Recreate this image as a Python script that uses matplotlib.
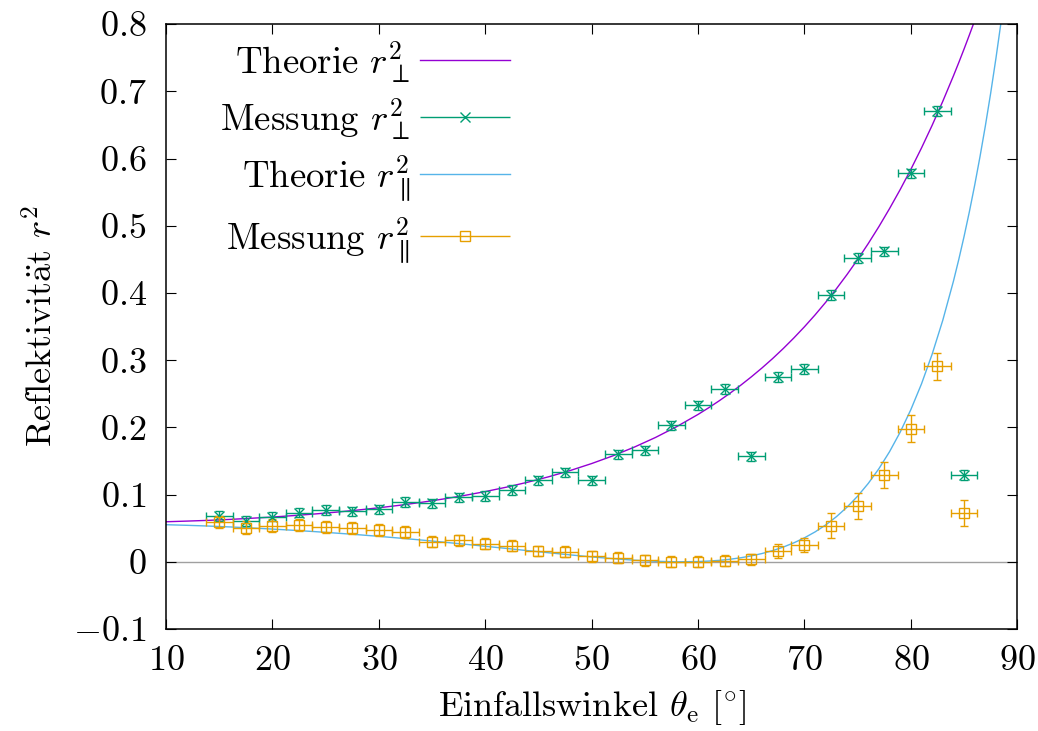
import matplotlib
matplotlib.use("Agg")
import matplotlib.pyplot as plt
from matplotlib.ticker import FuncFormatter, MultipleLocator
from matplotlib.legend_handler import HandlerErrorbar

plt.rcParams['font.family'] = 'serif'
plt.rcParams['font.serif'] = ['cmr10']
plt.rcParams['mathtext.fontset'] = 'cm'
plt.rcParams['axes.formatter.use_mathtext'] = True

# Theoriekurven (Fresnel, tabelliert)
theo_winkel = [10, 12, 14, 16, 18, 20, 22, 24, 26, 28, 30, 32, 34, 36, 38, 40, 42, 44, 46, 48,
               50, 52, 54, 56, 58, 60, 61, 62, 63, 64, 65, 66, 67, 68, 69, 70, 71, 72, 73, 74,
               75, 76, 77, 78, 79, 80, 81, 82, 83, 84, 84.5, 85, 85.5, 86, 86.5, 87, 87.5, 88,
               88.5, 89]
theo_senk = [0.0596, 0.0606, 0.0617, 0.0631, 0.0648, 0.0666, 0.0688, 0.0712, 0.0739, 0.0770,
             0.0804, 0.0842, 0.0885, 0.0933, 0.0986, 0.1045, 0.1111, 0.1185, 0.1267, 0.1359,
             0.1462, 0.1577, 0.1706, 0.1850, 0.2012, 0.2193, 0.2292, 0.2397, 0.2508, 0.2626,
             0.2751, 0.2883, 0.3023, 0.3172, 0.3330, 0.3497, 0.3674, 0.3862, 0.4062, 0.4274,
             0.4498, 0.4736, 0.4988, 0.5256, 0.5539, 0.5839, 0.6157, 0.6494, 0.6851, 0.7229,
             0.7426, 0.7629, 0.7838, 0.8052, 0.8273, 0.8499, 0.8733, 0.8972, 0.9219, 0.9472]
theo_par = [0.0552, 0.0543, 0.0532, 0.0519, 0.0504, 0.0487, 0.0469, 0.0449, 0.0427, 0.0404,
            0.0379, 0.0352, 0.0324, 0.0294, 0.0263, 0.0231, 0.0199, 0.0166, 0.0134, 0.0103,
            0.0073, 0.0047, 0.0024, 0.0008, 0.0000, 0.0004, 0.0011, 0.0022, 0.0038, 0.0060,
            0.0088, 0.0123, 0.0166, 0.0219, 0.0282, 0.0357, 0.0445, 0.0549, 0.0671, 0.0813,
            0.0977, 0.1167, 0.1386, 0.1639, 0.1930, 0.2264, 0.2647, 0.3088, 0.3593, 0.4173,
            0.4495, 0.4839, 0.5208, 0.5604, 0.6028, 0.6483, 0.6970, 0.7494, 0.8055, 0.8658]

# Messwerte
mess_winkel = [15, 17.5, 20, 22.5, 25, 27.5, 30, 32.5, 35, 37.5, 40, 42.5, 45, 47.5, 50,
               52.5, 55, 57.5, 60, 62.5, 65, 67.5, 70, 72.5, 75, 77.5, 80, 82.5, 85]
mess_senk = [0.068, 0.061, 0.067, 0.073, 0.077, 0.075, 0.078, 0.089, 0.087, 0.096, 0.098,
             0.107, 0.121, 0.133, 0.121, 0.160, 0.166, 0.203, 0.233, 0.257, 0.157, 0.275,
             0.287, 0.397, 0.452, 0.462, 0.578, 0.671, 0.129]
mess_par = [0.059, 0.051, 0.054, 0.055, 0.052, 0.050, 0.048, 0.044, 0.030, 0.032, 0.027,
            0.024, 0.016, 0.015, 0.008, 0.006, 0.002, 0.000, 0.000, 0.0015, 0.004, 0.016,
            0.025, 0.054, 0.083, 0.129, 0.198, 0.291, 0.073]
fehler_winkel = 1.25
fehler_senk = 0.007
fehler_par = [0.009, 0.009, 0.009, 0.009, 0.009, 0.009, 0.009, 0.009, 0.008, 0.008, 0.008,
              0.008, 0.008, 0.008, 0.008, 0.008, 0.008, 0.008, 0.008, 0.008, 0.008, 0.011,
              0.010, 0.019, 0.019, 0.019, 0.020, 0.020, 0.019]

lila = '#9400d3'
gruen = '#009e73'
blau = '#56b4e9'
orange = '#e69f00'

fig, ax = plt.subplots(figsize=(10.38, 7.31), dpi=100)
fig.subplots_adjust(left=0.16, right=0.98, top=0.967, bottom=0.1395)

ax.axhline(0, color='#a0a0a0', lw=1, zorder=1)

ax.plot(theo_winkel, theo_senk, color=lila, lw=1, zorder=2)
ax.errorbar(mess_winkel, mess_senk, xerr=fehler_winkel, yerr=fehler_senk, fmt='x', color=gruen,
            ms=7, mew=1, elinewidth=1, capsize=3, capthick=1, zorder=3)
ax.plot(theo_winkel, theo_par, color=blau, lw=1, zorder=2)
ax.errorbar(mess_winkel, mess_par, xerr=fehler_winkel, yerr=fehler_par, fmt='s', color=orange,
            mfc='none', ms=7, mew=1, elinewidth=1, capsize=3, capthick=1, zorder=3)

# Legendeneintraege ohne vertikale Fehlerbalken
h1, = ax.plot([], [], color=lila, lw=1)
h2 = ax.errorbar([], [], xerr=[], fmt='x', color=gruen, ms=7, mew=1, elinewidth=1, capsize=3)
h3, = ax.plot([], [], color=blau, lw=1)
h4 = ax.errorbar([], [], xerr=[], fmt='s', color=orange, mfc='none', ms=7, mew=1,
                 elinewidth=1, capsize=3)
ax.legend([h1, h2, h3, h4],
          [r'Theorie $r_\perp^2$', r'Messung $r_\perp^2$',
           r'Theorie $r_\parallel^2$', r'Messung $r_\parallel^2$'],
          loc='upper right', bbox_to_anchor=(0.404, 0.975), frameon=False, markerfirst=False,
          fontsize=26.5, handlelength=2.45, handletextpad=0.27, labelspacing=0.30,
          borderpad=0, borderaxespad=0, numpoints=1,
          handler_map={type(h2): HandlerErrorbar(xerr_size=1.22)})

ax.set_xlim(10, 90)
ax.set_ylim(-0.1, 0.8)
ax.xaxis.set_major_locator(MultipleLocator(10))
ax.yaxis.set_major_locator(MultipleLocator(0.1))
fmt = FuncFormatter(lambda v, p: r'$%g$' % round(v, 2))
ax.xaxis.set_major_formatter(fmt)
ax.yaxis.set_major_formatter(fmt)
ax.tick_params(direction='in', top=True, right=True, length=7, width=0.8, labelsize=26)
ax.tick_params(axis='y', pad=14)
ax.tick_params(axis='x', pad=12)
for s in ax.spines.values():
    s.set_linewidth(1.1)

ax.set_xlabel(r'Einfallswinkel $\theta_\mathrm{e}$ $[{}^{\circ}]$', fontsize=26, labelpad=8)
ax.set_ylabel(r'Reflektivit$\mathrm{\ddot{a}}$t $r^2$', fontsize=26, labelpad=10)

fig.savefig('out.png')
